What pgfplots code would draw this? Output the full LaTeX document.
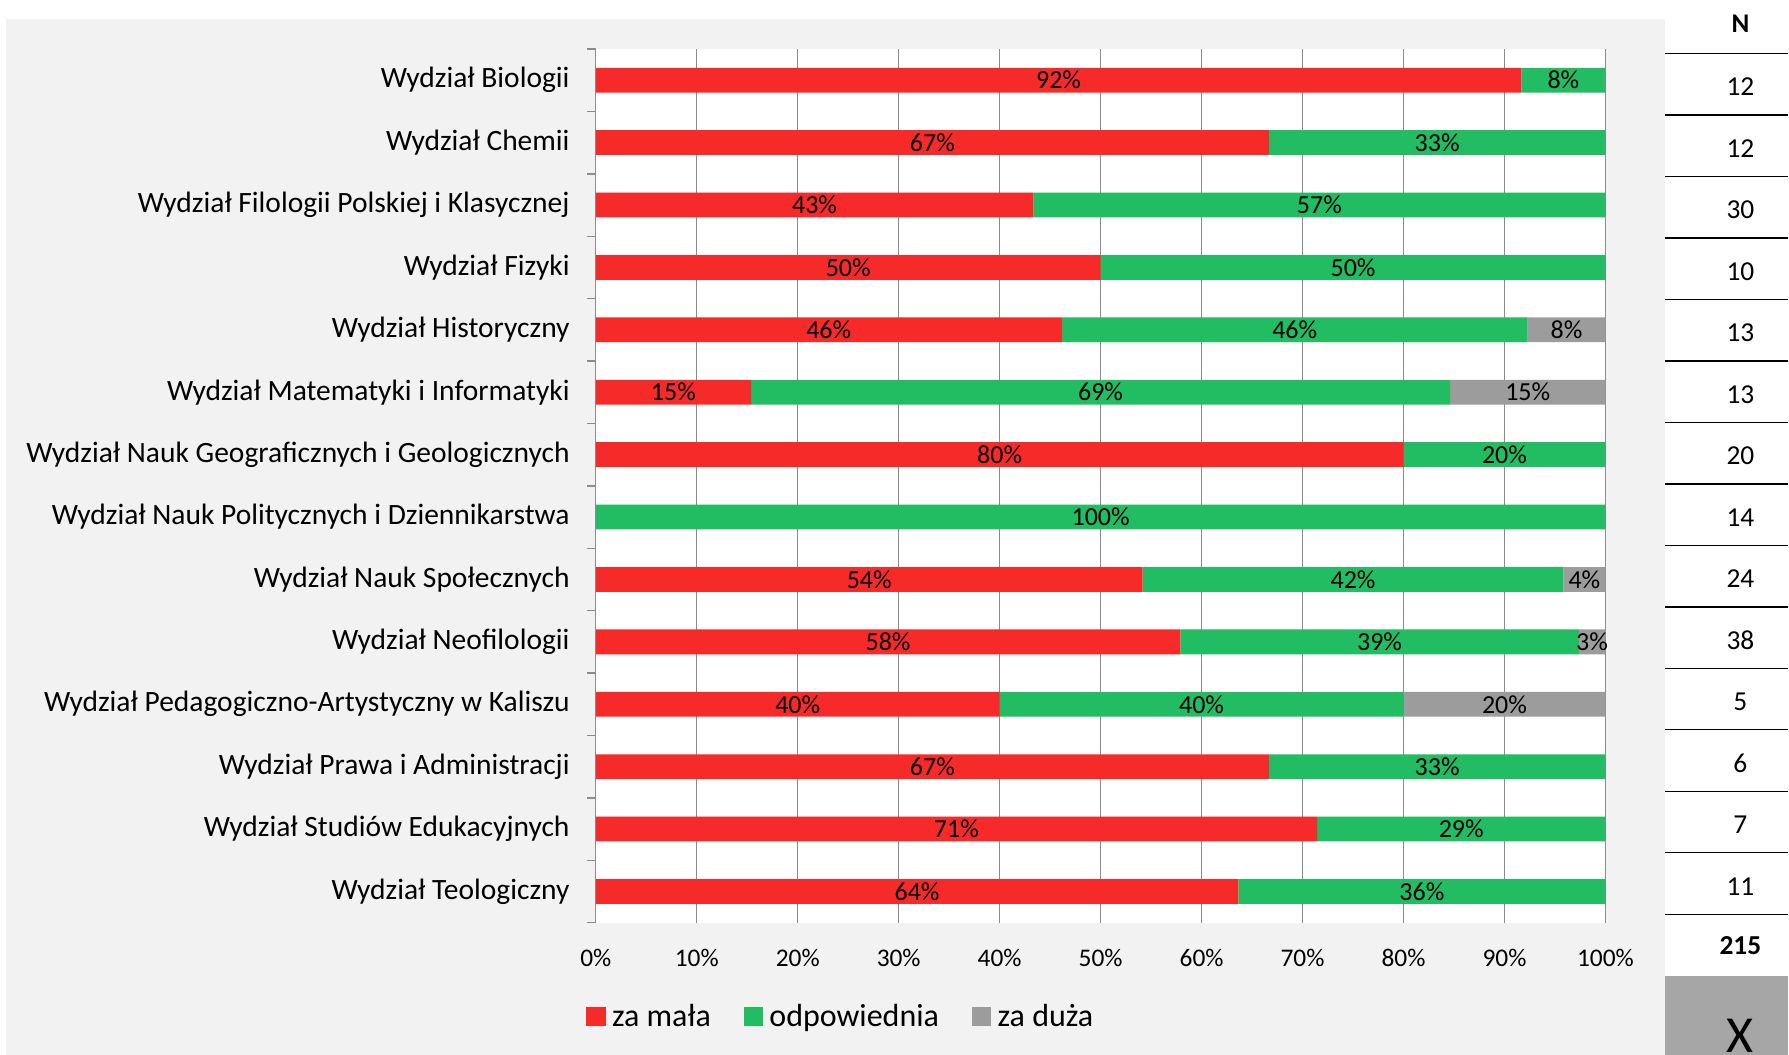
\documentclass[border=0pt]{standalone}
\usepackage{fontspec}
\setmainfont{Carlito}
\usepackage{pgfplots}
\pgfplotsset{compat=1.18}
\definecolor{barred}{HTML}{F72A2A}
\definecolor{bargreen}{HTML}{22BC62}
\definecolor{bargrey}{HTML}{9C9C9C}
\definecolor{panel}{HTML}{F2F2F2}
\definecolor{gridgrey}{HTML}{8C8C8C}
\definecolor{boxgrey}{HTML}{A6A6A6}

\begin{document}
\begin{tikzpicture}
% background, in pixel units of the reference
\begin{scope}[x=0.5pt,y=-0.5pt]
\useasboundingbox (0,0) rectangle (1789,1055);
\fill[white] (0,0) rectangle (1789,1055);
\fill[panel] (6,19) rectangle (1666,1055);
\end{scope}

\begin{axis}[
  at={(298pt,-461.5pt)}, anchor=south west,
  scale only axis, width=505pt, height=437pt,
  xbar stacked, bar width=12.4pt,
  xmin=0, xmax=100, ymin=-0.5, ymax=13.5,
  axis background/.style={fill=white},
  ytick={0,...,13},
  yticklabels={Wydział Teologiczny, Wydział Studiów Edukacyjnych,
    Wydział Prawa i Administracji, Wydział Pedagogiczno-Artystyczny w Kaliszu,
    Wydział Neofilologii, Wydział Nauk Społecznych,
    Wydział Nauk Politycznych i Dziennikarstwa,
    Wydział Nauk Geograficznych i Geologicznych,
    Wydział Matematyki i Informatyki, Wydział Historyczny, Wydział Fizyki,
    Wydział Filologii Polskiej i Klasycznej, Wydział Chemii, Wydział Biologii},
  minor ytick={-0.5,0.5,...,13.5},
  xtick={0,10,...,100},
  xticklabel={\pgfmathprintnumber{\tick}\%},
  /pgf/number format/assume math mode=true,
  xmajorgrids, grid style={gridgrey, line width=0.7pt},
  axis lines*=left,
  x axis line style={draw=none},
  y axis line style={gridgrey, line width=0.7pt},
  tick align=outside, major tick length=0pt, minor tick length=4.5pt,
  minor tick style={gridgrey, line width=0.7pt},
  yticklabel style={font=\fontsize{14.75}{17}\selectfont, xshift=-9.6pt},
  xticklabel style={font=\fontsize{12.7}{15}\selectfont, yshift=-9.6pt},
  point meta=explicit symbolic,
  nodes near coords={\pgfplotspointmeta},
  every node near coord/.append style={font=\fontsize{13}{15}\selectfont, text=black},
  legend columns=3,
  legend style={draw=none, fill=none, at={(-0.0156,-0.1076)}, anchor=west,
    font=\fontsize{16}{19}\selectfont,
    /tikz/every even column/.append style={column sep=14.5pt}},
  legend image code/.code={\fill[#1] (0pt,-4.8pt) rectangle (9.6pt,4.8pt); \path (10.8pt,0pt);},
]
\addplot[fill=barred, draw=none] coordinates {
  (63.64,0)[64\%] (71.43,1)[71\%] (66.67,2)[67\%] (40,3)[40\%]
  (57.89,4)[58\%] (54.17,5)[54\%] (0,6)[] (80,7)[80\%]
  (15.38,8)[15\%] (46.15,9)[46\%] (50,10)[50\%] (43.33,11)[43\%]
  (66.67,12)[67\%] (91.67,13)[92\%]};
\addplot[fill=bargreen, draw=none] coordinates {
  (36.36,0)[36\%] (28.57,1)[29\%] (33.33,2)[33\%] (40,3)[40\%]
  (39.47,4)[39\%] (41.66,5)[42\%] (100,6)[100\%] (20,7)[20\%]
  (69.23,8)[69\%] (46.15,9)[46\%] (50,10)[50\%] (56.67,11)[57\%]
  (33.33,12)[33\%] (8.33,13)[8\%]};
\addplot[fill=bargrey, draw=none] coordinates {
  (0,0)[] (0,1)[] (0,2)[] (20,3)[20\%]
  (2.63,4)[3\%] (4.17,5)[4\%] (0,6)[] (0,7)[]
  (15.38,8)[15\%] (7.69,9)[8\%] (0,10)[] (0,11)[]
  (0,12)[] (0,13)[]};
\legend{za mała, odpowiednia, za duża}
\end{axis}

% N column
\begin{scope}[x=0.5pt,y=-0.5pt]
\fill[boxgrey] (1666,976) rectangle (1789,1055);
\foreach \k in {0,...,14}
  \draw[line width=0.6pt] (1666,{53.6+61.5*\k}) -- (1789,{53.6+61.5*\k});
\node[font=\fontsize{13.5}{16}\selectfont\bfseries] at (1741,24) {N};
\foreach \n [count=\i from 0] in {12,12,30,10,13,13,20,14,24,38,5,6,7,11}
  \node[font=\fontsize{13.7}{16}\selectfont] at (1741,{87+61.5*\i}) {\n};
\node[font=\fontsize{13.7}{16}\selectfont\bfseries] at (1741,946) {215};
\node[anchor=base, inner sep=0pt, font=\fontsize{26}{30}\selectfont] at (1741,1053) {X};
\end{scope}
\end{tikzpicture}
\end{document}
